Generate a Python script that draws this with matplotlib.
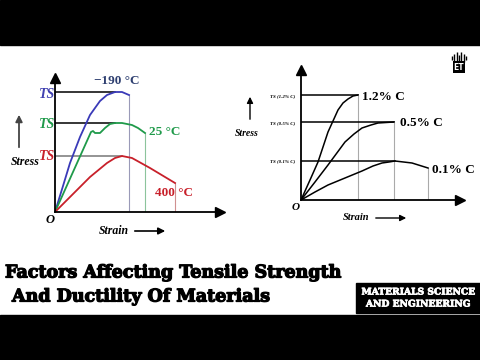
import matplotlib.pyplot as plt
import matplotlib.patheffects as pe
from matplotlib.patches import Rectangle

# left chart: stress-strain at three temperatures (units)
blue_strain = [0, 8, 15, 25, 35, 45, 52, 60, 67, 74]
blue_stress = [0, 26, 49, 75, 97, 111, 117, 120, 120, 117]
green_strain = [0, 36, 38, 40, 45, 50, 55, 60, 67, 77, 83, 90]
green_stress = [0, 80, 81, 79, 79, 84, 88, 89, 89, 87, 84, 79]
red_strain = [0, 15, 35, 52, 60, 67, 77, 95, 120]
red_stress = [0, 15, 35, 49, 54, 56, 54, 44, 29]
temps = ['\u2212190 \u00b0C', '25 \u00b0C', '400 \u00b0C']

# right chart: three carbon contents
c12_strain = [0, 9, 17, 27, 37, 42, 47, 52, 57]
c12_stress = [0, 20, 38, 68, 90, 97, 101, 104, 105]
c05_strain = [0, 14, 27, 44, 53, 61, 70, 77, 93]
c05_stress = [0, 18, 35, 58, 66, 72, 75, 77, 78]
c01_strain = [0, 14, 27, 44, 61, 72, 81, 88, 94, 111, 127]
c01_stress = [0, 8, 15, 22, 29, 34, 37, 38, 39, 37, 32]
carbon = ['1.2% C', '0.5% C', '0.1% C']

logo_bars = [4, 8, 12, 6, 12, 8, 4]

W, H = 480, 360
fig = plt.figure(figsize=(4.8, 3.6), dpi=100)
bg = fig.add_axes([0, 0, 1, 1])
bg.set_xlim(0, W)
bg.set_ylim(H, 0)
bg.axis('off')
bg.add_patch(Rectangle((0, 0), W, 45, color='black'))
bg.add_patch(Rectangle((0, 315), W, 45, color='black'))
bg.add_patch(Rectangle((356, 283), 124, 30, color='black'))


def chart(rect, xmax, ymax):
    ax = fig.add_axes([rect[0] / W, 1 - rect[1] / H, rect[2] / W, rect[3] / H])
    ax.set_xlim(0, xmax)
    ax.set_ylim(0, ymax)
    ax.patch.set_alpha(0)
    for s in ['top', 'right']:
        ax.spines[s].set_visible(False)
    for s in ['left', 'bottom']:
        ax.spines[s].set_linewidth(1.3)
    ax.set_xticks([])
    ax.set_yticks([])
    ax.plot(1, 0, '>k', ms=7, transform=ax.transAxes, clip_on=False)
    ax.plot(0, 1, '^k', ms=7, transform=ax.transAxes, clip_on=False)
    return ax


def ts_lines(ax, x, y, peak, line_col, drop_col):
    ax.plot([0, x[peak]], [y[peak], y[peak]], color=line_col, lw=1.1)
    ax.plot([x[-1], x[-1]], [0, y[-1]], color=drop_col, lw=0.8)


# left chart
axl = chart((55, 212, 165, 134), 165, 134)
ts_lines(axl, blue_strain, blue_stress, 7, 'black', '#9a9ab8')
ts_lines(axl, green_strain, green_stress, 7, 'black', '#8cc49c')
ts_lines(axl, red_strain, red_stress, 5, '#777777', '#d09090')
axl.plot(blue_strain, blue_stress, color='#3a3ab8', lw=1.3)
axl.plot(green_strain, green_stress, color='#1f9a4a', lw=1.3)
axl.plot(red_strain, red_stress, color='#c8202a', lw=1.3)

# right chart
axr = chart((301, 200, 159, 130), 159, 130)
curves = [(c12_strain, c12_stress, 8), (c05_strain, c05_stress, 8), (c01_strain, c01_stress, 8)]
for xs, ys, pk in curves:
    ts_lines(axr, xs, ys, pk, 'black', '#aaaaaa')
for xs, ys, pk in curves:
    axr.plot(xs, ys, color='black', lw=1.1)

serif = 'Liberation Serif'
tb = dict(family=serif, weight='bold', style='italic', va='center')

# left chart text
for col, y in [('#4040b0', 94), ('#1f9a4a', 124), ('#c8202a', 157)]:
    bg.text(47, y, 'TS', color=col, fontsize=10, ha='center', **tb)
bg.text(117, 81, temps[0], color='#2e3f70', fontsize=9.5, ha='center',
        va='center', family=serif, weight='bold')
bg.text(165, 132, temps[1], color='#1f9a4a', fontsize=9.5, ha='center',
        va='center', family=serif, weight='bold')
bg.text(174, 193, temps[2], color='#c8202a', fontsize=9.5, ha='center',
        va='center', family=serif, weight='bold')
bg.text(25, 162, 'Stress', color='black', fontsize=8.5, ha='center', **tb)
bg.annotate('', xy=(19, 112), xytext=(19, 150),
            arrowprops=dict(arrowstyle='-|>', color='#444444', lw=1.3, mutation_scale=10))
bg.text(50, 220, 'O', color='black', fontsize=9, ha='center', **tb)
bg.text(114, 231, 'Strain', color='black', fontsize=8.5, ha='center', **tb)
bg.annotate('', xy=(168, 231), xytext=(132, 231),
            arrowprops=dict(arrowstyle='-|>', color='black', lw=1.2, mutation_scale=10))

# right chart text
for lab, y in [('1.2% C', 96), ('0.5% C', 123), ('0.1% C', 161)]:
    bg.text(283, y, 'TS (' + lab + ')', fontsize=3.6, ha='center', **tb)
bg.text(362, 97, carbon[0], fontsize=9.5, ha='left', va='center', family=serif, weight='bold')
bg.text(400, 123, carbon[1], fontsize=9.5, ha='left', va='center', family=serif, weight='bold')
bg.text(432, 170, carbon[2], fontsize=9.5, ha='left', va='center', family=serif, weight='bold')
bg.text(247, 133, 'Stress', fontsize=7, ha='center', **tb)
bg.annotate('', xy=(250, 94), xytext=(250, 122),
            arrowprops=dict(arrowstyle='-|>', color='black', lw=1.0, mutation_scale=9))
bg.text(296, 208, 'O', fontsize=8, ha='center', **tb)
bg.text(356, 218, 'Strain', fontsize=7.5, ha='center', **tb)
bg.annotate('', xy=(409, 218), xytext=(373, 218),
            arrowprops=dict(arrowstyle='-|>', color='black', lw=1.0, mutation_scale=9))

# logo
for i, h in enumerate(logo_bars):
    bg.vlines(452 + i * 2.3, 58 - h / 2, 58 + h / 2, color='black', lw=1.0)
bg.text(459, 67, 'ET', fontsize=5.5, ha='center', va='center', color='white',
        weight='bold', bbox=dict(boxstyle='square,pad=0.15', fc='black', ec='none'))

# title and badge
heavy = [pe.withStroke(linewidth=0.9, foreground='black')]
bg.text(5, 273, 'Factors Affecting Tensile Strength', fontsize=12.6, ha='left',
        va='center', family='DejaVu Serif', weight='bold', path_effects=heavy)
bg.text(12, 297, 'And Ductility Of Materials', fontsize=12.6, ha='left',
        va='center', family='DejaVu Serif', weight='bold', path_effects=heavy)
light = [pe.withStroke(linewidth=0.5, foreground='white')]
bg.text(418, 292, 'MATERIALS SCIENCE', fontsize=6.6, ha='center', va='center',
        color='white', family='DejaVu Serif', weight='bold', path_effects=light)
bg.text(418, 304, 'AND ENGINEERING', fontsize=6.6, ha='center', va='center',
        color='white', family='DejaVu Serif', weight='bold', path_effects=light)

fig.savefig('out.png', dpi=100)
